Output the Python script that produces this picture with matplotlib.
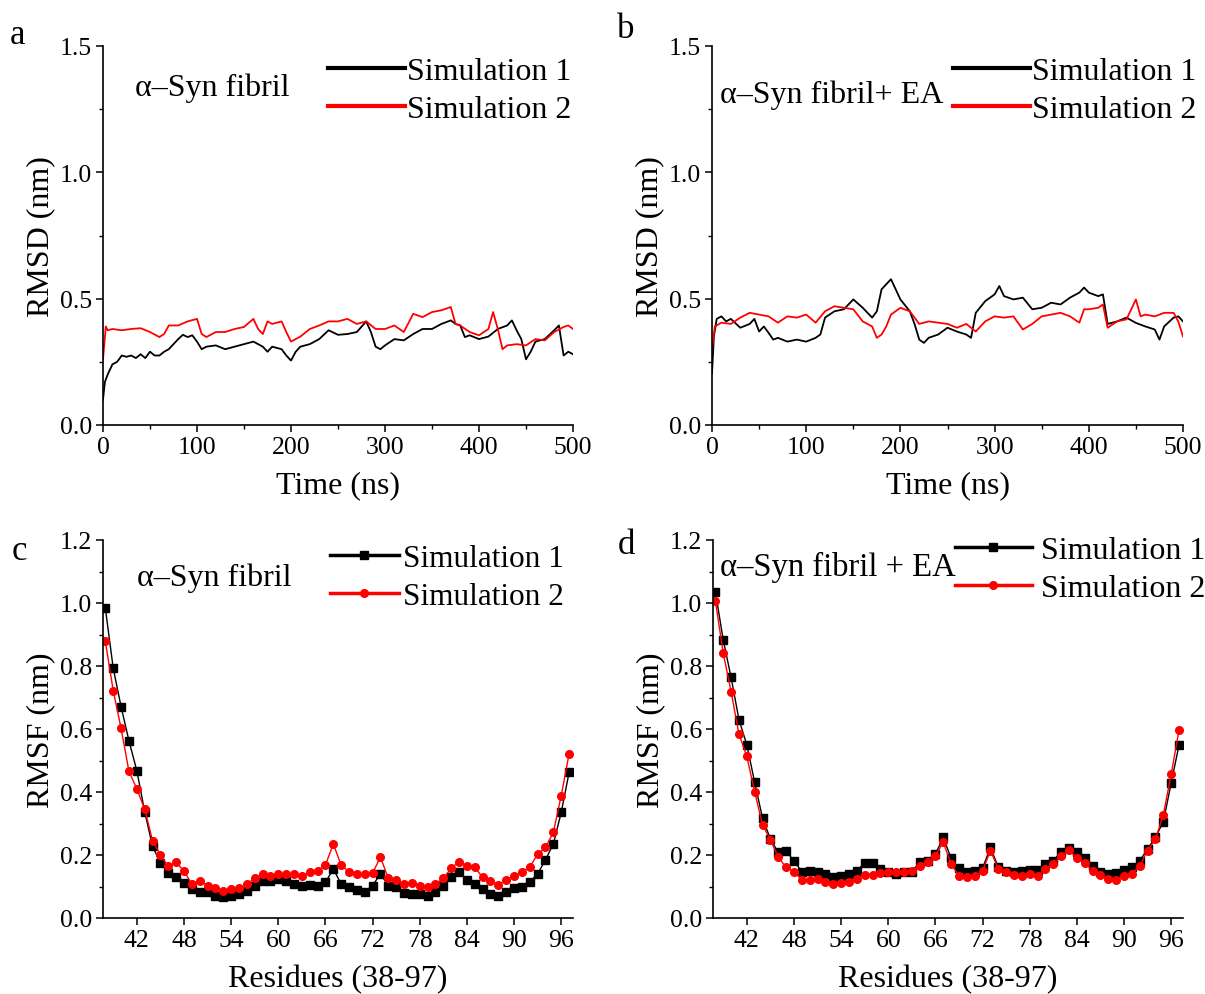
import numpy as np
import matplotlib
matplotlib.use('Agg')
import matplotlib.pyplot as plt
from matplotlib.ticker import MultipleLocator, FormatStrFormatter

# RMSD (panel a): alpha-Syn fibril
t_a1 = [0, 2, 5, 10, 15, 20, 25, 30, 35, 40, 45, 50, 55, 60, 65, 70, 75, 80, 85, 90, 95,
        100, 105, 110, 120, 130, 140, 150, 160, 170, 175, 180, 190, 195, 200, 205, 210,
        220, 230, 240, 250, 260, 270, 280, 285, 290, 295, 300, 310, 320, 330, 340, 350,
        360, 370, 375, 380, 385, 390, 400, 410, 420, 430, 435, 440, 445, 450, 455, 460,
        470, 480, 485, 490, 495, 500]
rmsd_a1 = [0.10, 0.17, 0.20, 0.24, 0.25, 0.275, 0.27, 0.275, 0.265, 0.28, 0.265, 0.29, 0.275,
           0.275, 0.29, 0.30, 0.32, 0.34, 0.357, 0.348, 0.355, 0.33, 0.30, 0.31, 0.315, 0.30,
           0.31, 0.32, 0.33, 0.31, 0.29, 0.31, 0.30, 0.275, 0.255, 0.29, 0.31, 0.32, 0.34,
           0.375, 0.357, 0.36, 0.368, 0.41, 0.368, 0.31, 0.30, 0.315, 0.34, 0.335, 0.36, 0.38,
           0.38, 0.40, 0.414, 0.40, 0.394, 0.348, 0.355, 0.34, 0.35, 0.38, 0.394, 0.414, 0.375,
           0.34, 0.26, 0.29, 0.33, 0.34, 0.375, 0.394, 0.275, 0.29, 0.28]
t_a2 = [0, 3, 5, 10, 20, 30, 40, 50, 60, 65, 70, 80, 90, 100, 105, 110, 120, 130, 140, 150,
        160, 165, 170, 175, 180, 190, 195, 200, 210, 220, 230, 240, 250, 260, 270, 280, 290,
        300, 310, 320, 330, 340, 350, 360, 370, 375, 380, 390, 400, 410, 415, 420, 425, 430,
        440, 450, 460, 470, 480, 490, 495, 500]
rmsd_a2 = [0.26, 0.39, 0.375, 0.38, 0.375, 0.38, 0.383, 0.368, 0.348, 0.36, 0.394, 0.394, 0.41,
           0.42, 0.36, 0.348, 0.368, 0.368, 0.38, 0.388, 0.42, 0.38, 0.36, 0.41, 0.40, 0.41,
           0.368, 0.33, 0.35, 0.38, 0.394, 0.41, 0.41, 0.42, 0.40, 0.41, 0.38, 0.38, 0.394,
           0.368, 0.44, 0.427, 0.447, 0.454, 0.467, 0.40, 0.394, 0.368, 0.355, 0.38, 0.447,
           0.38, 0.30, 0.315, 0.32, 0.315, 0.34, 0.335, 0.368, 0.388, 0.394, 0.38]

# RMSD (panel b): alpha-Syn fibril + EA
t_b1 = [0, 2, 5, 10, 15, 20, 30, 40, 45, 50, 55, 60, 65, 70, 80, 90, 100, 110, 115, 120, 130,
        140, 150, 160, 170, 175, 180, 190, 195, 200, 210, 215, 220, 225, 230, 240, 250, 260,
        270, 275, 280, 290, 300, 305, 310, 320, 330, 340, 350, 360, 370, 380, 390, 395, 400,
        410, 415, 420, 430, 440, 450, 460, 470, 475, 480, 490, 495, 500]
rmsd_b1 = [0.205, 0.35, 0.42, 0.43, 0.41, 0.42, 0.385, 0.40, 0.42, 0.37, 0.39, 0.365, 0.338,
           0.345, 0.33, 0.338, 0.33, 0.345, 0.358, 0.425, 0.45, 0.458, 0.497, 0.464, 0.425,
           0.45, 0.537, 0.577, 0.537, 0.497, 0.45, 0.40, 0.338, 0.325, 0.345, 0.358, 0.385,
           0.37, 0.358, 0.345, 0.444, 0.49, 0.517, 0.55, 0.51, 0.497, 0.504, 0.458, 0.464,
           0.484, 0.477, 0.504, 0.524, 0.544, 0.524, 0.51, 0.517, 0.40, 0.41, 0.425, 0.404,
           0.39, 0.378, 0.338, 0.39, 0.425, 0.43, 0.41]
t_b2 = [0, 3, 10, 20, 30, 40, 50, 60, 70, 80, 90, 100, 110, 120, 130, 140, 150, 160, 170, 175,
        180, 185, 190, 200, 210, 220, 230, 240, 250, 260, 270, 280, 290, 300, 310, 320, 330,
        340, 350, 360, 370, 380, 390, 395, 400, 410, 415, 420, 430, 440, 450, 455, 460, 470,
        480, 490, 495, 500]
rmsd_b2 = [0.30, 0.39, 0.405, 0.40, 0.425, 0.444, 0.437, 0.43, 0.405, 0.43, 0.425, 0.437,
           0.405, 0.45, 0.47, 0.464, 0.458, 0.41, 0.39, 0.345, 0.358, 0.39, 0.437, 0.464, 0.45,
           0.40, 0.41, 0.405, 0.40, 0.385, 0.40, 0.37, 0.41, 0.43, 0.425, 0.43, 0.378, 0.40,
           0.43, 0.437, 0.444, 0.43, 0.405, 0.458, 0.458, 0.464, 0.477, 0.385, 0.41, 0.418,
           0.497, 0.43, 0.437, 0.43, 0.444, 0.444, 0.41, 0.35]

# RMSF, residues 38-97
residues = list(range(38, 98))
rmsf_c1 = [0.983, 0.793, 0.671, 0.563, 0.468, 0.338, 0.228, 0.175, 0.143, 0.129, 0.111, 0.092,
           0.084, 0.081, 0.071, 0.066, 0.069, 0.076, 0.087, 0.103, 0.119, 0.119, 0.124, 0.119,
           0.108, 0.101, 0.105, 0.103, 0.113, 0.156, 0.108, 0.097, 0.090, 0.084, 0.103, 0.140,
           0.103, 0.097, 0.079, 0.076, 0.076, 0.071, 0.084, 0.103, 0.129, 0.145, 0.122, 0.108,
           0.092, 0.076, 0.071, 0.081, 0.094, 0.097, 0.115, 0.140, 0.185, 0.235, 0.335, 0.462]
rmsf_c2 = [0.878, 0.722, 0.602, 0.466, 0.410, 0.346, 0.246, 0.200, 0.164, 0.177, 0.149, 0.108,
           0.119, 0.103, 0.094, 0.087, 0.092, 0.094, 0.108, 0.126, 0.140, 0.134, 0.140, 0.140,
           0.140, 0.132, 0.147, 0.150, 0.168, 0.235, 0.168, 0.147, 0.140, 0.140, 0.143, 0.193,
           0.126, 0.122, 0.108, 0.111, 0.103, 0.097, 0.108, 0.126, 0.158, 0.179, 0.166, 0.161,
           0.129, 0.119, 0.105, 0.122, 0.134, 0.147, 0.161, 0.203, 0.224, 0.272, 0.388, 0.521]
rmsf_d1 = [1.036, 0.883, 0.764, 0.630, 0.550, 0.431, 0.317, 0.251, 0.208, 0.212, 0.182, 0.147,
           0.150, 0.147, 0.140, 0.129, 0.134, 0.140, 0.150, 0.175, 0.175, 0.156, 0.147, 0.140,
           0.145, 0.147, 0.177, 0.182, 0.203, 0.256, 0.189, 0.158, 0.147, 0.150, 0.158, 0.224,
           0.161, 0.150, 0.147, 0.150, 0.153, 0.153, 0.171, 0.182, 0.211, 0.221, 0.208, 0.189,
           0.164, 0.147, 0.140, 0.143, 0.153, 0.161, 0.182, 0.219, 0.256, 0.306, 0.429, 0.550]
rmsf_d2 = [1.007, 0.841, 0.719, 0.584, 0.513, 0.401, 0.295, 0.249, 0.193, 0.161, 0.147, 0.122,
           0.122, 0.124, 0.113, 0.108, 0.111, 0.113, 0.124, 0.137, 0.137, 0.143, 0.147, 0.147,
           0.147, 0.150, 0.166, 0.177, 0.198, 0.240, 0.171, 0.134, 0.129, 0.132, 0.150, 0.214,
           0.156, 0.145, 0.137, 0.134, 0.140, 0.134, 0.156, 0.171, 0.196, 0.217, 0.189, 0.175,
           0.150, 0.137, 0.124, 0.122, 0.134, 0.140, 0.166, 0.214, 0.250, 0.328, 0.457, 0.597]

labels = ['Simulation 1', 'Simulation 2']

plt.rcParams['font.family'] = ['Liberation Serif', 'DejaVu Serif']

W, H = 1205, 995
fig = plt.figure(figsize=(W / 100, H / 100), dpi=100)

FS_TICK = 18.5
FS_LAB = 23
FS_TXT = 23


def box(x0, y0, x1, y1):
    # pixel box -> figure fraction [left, bottom, width, height]
    return [x0 / W, 1 - y1 / H, (x1 - x0) / W, (y1 - y0) / H]


ax_a = fig.add_axes(box(103, 47, 573, 426))
ax_b = fig.add_axes(box(712, 47, 1183, 426))
ax_c = fig.add_axes(box(103, 541, 573, 919))
ax_d = fig.add_axes(box(713, 541, 1183, 919))


def style(ax):
    for s in ['top', 'right']:
        ax.spines[s].set_visible(False)
    for s in ['left', 'bottom']:
        ax.spines[s].set_linewidth(1.2)
    ax.tick_params(which='major', direction='out', length=5, width=1.1, labelsize=FS_TICK, pad=3)
    ax.tick_params(which='minor', direction='out', length=3, width=1.0)
    ax.yaxis.set_major_formatter(FormatStrFormatter('%.1f'))


def add_legend(ax, x, y, lw, hlen, pad, fs=FS_TXT):
    leg = ax.legend(loc='upper left', bbox_to_anchor=(x, y), frameon=False, fontsize=fs,
                    handlelength=hlen, handletextpad=pad, labelspacing=0.28,
                    borderpad=0, borderaxespad=0)
    for ln in leg.get_lines():
        ln.set_linewidth(lw)
    return leg


# --- RMSD ---
for ax, (t1, y1, t2, y2) in [(ax_a, (t_a1, rmsd_a1, t_a2, rmsd_a2)),
                             (ax_b, (t_b1, rmsd_b1, t_b2, rmsd_b2))]:
    ax.plot(t1, y1, color='black', lw=1.3, label=labels[0])
    ax.plot(t2, y2, color='red', lw=1.3, label=labels[1])
    ax.set_xlim(0, 500)
    ax.set_ylim(0, 1.5)
    ax.xaxis.set_major_locator(MultipleLocator(100))
    ax.xaxis.set_minor_locator(MultipleLocator(50))
    ax.yaxis.set_major_locator(MultipleLocator(0.5))
    ax.yaxis.set_minor_locator(MultipleLocator(0.25))
    style(ax)
    ax.set_xlabel('Time (ns)', fontsize=FS_LAB, labelpad=9)
    ax.set_ylabel('RMSD (nm)', fontsize=FS_LAB, labelpad=3)

add_legend(ax_a, 0.479, 0.972, 3, 2.4, 0.08)
add_legend(ax_b, 0.512, 0.972, 3, 2.4, 0.08)

# --- RMSF ---
for ax, y1, y2 in [(ax_c, rmsf_c1, rmsf_c2), (ax_d, rmsf_d1, rmsf_d2)]:
    ax.plot(residues, y1, color='black', lw=1.0, marker='s', ms=5.5, label=labels[0])
    ax.plot(residues, y2, color='red', lw=1.0, marker='o', ms=5.5, label=labels[1])
    ax.set_xlim(37.7, 97.5)
    ax.set_ylim(0, 1.2)
    ax.set_xticks(range(42, 97, 6))
    ax.yaxis.set_major_locator(MultipleLocator(0.2))
    ax.yaxis.set_minor_locator(MultipleLocator(0.1))
    style(ax)
    ax.set_xlabel('Residues (38-97)', fontsize=FS_LAB, labelpad=9)
    ax.set_ylabel('RMSF (nm)', fontsize=FS_LAB, labelpad=3)

add_legend(ax_c, 0.483, 0.99, 2.5, 2.2, 0.15, fs=22.5)
add_legend(ax_d, 0.515, 1.012, 2.5, 2.4, 0.3)

# annotations inside panels
fig.text(135 / W, 1 - 88 / H, 'α–Syn fibril', fontsize=FS_TXT, va='center', ha='left')
fig.text(720 / W, 1 - 95 / H, 'α–Syn fibril+ EA', fontsize=FS_TXT, va='center', ha='left')
fig.text(137 / W, 1 - 578 / H, 'α–Syn fibril', fontsize=FS_TXT, va='center', ha='left')
fig.text(720 / W, 1 - 567 / H, 'α–Syn fibril + EA', fontsize=23.5, va='center', ha='left')

# panel letters
fig.text(10 / W, 1 - 35 / H, 'a', fontsize=25, va='center', ha='left')
fig.text(617 / W, 1 - 30 / H, 'b', fontsize=25, va='center', ha='left')
fig.text(12 / W, 1 - 552 / H, 'c', fontsize=25, va='center', ha='left')
fig.text(618 / W, 1 - 546 / H, 'd', fontsize=25, va='center', ha='left')

fig.savefig('out.png', dpi=100)
